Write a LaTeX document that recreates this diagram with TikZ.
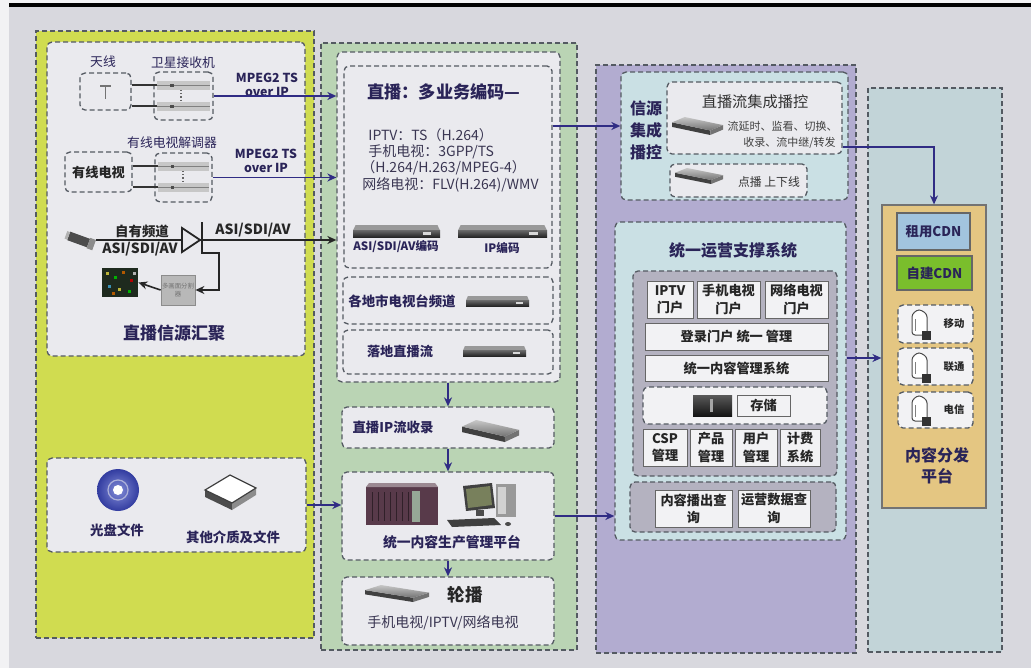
\documentclass[tikz,border=0pt]{standalone}
\usepackage{fontspec}
\setmainfont{Noto Sans CJK SC}
\usetikzlibrary{fit,arrows.meta}

\definecolor{pagebg}{RGB}{216,216,222}
\definecolor{marginc}{RGB}{242,242,244}
\definecolor{yelp}{RGB}{208,220,80}
\definecolor{grnp}{RGB}{186,212,180}
\definecolor{lavp}{RGB}{178,172,208}
\definecolor{cynp}{RGB}{194,212,216}
\definecolor{cynin}{RGB}{202,224,228}
\definecolor{grayin}{RGB}{180,178,192}
\definecolor{boxw}{RGB}{234,234,238}
\definecolor{boxw2}{RGB}{242,242,244}
\definecolor{tanp}{RGB}{228,198,130}
\definecolor{cdnb}{RGB}{162,196,222}
\definecolor{cdng}{RGB}{122,190,44}
\definecolor{dashc}{RGB}{84,90,98}
\definecolor{navy}{RGB}{42,36,88}
\definecolor{txtg}{RGB}{58,54,82}
\definecolor{arrc}{RGB}{48,44,132}
\definecolor{rackc}{RGB}{88,58,74}
\definecolor{rackpanel}{RGB}{150,168,150}
\definecolor{screenc}{RGB}{120,128,92}
\definecolor{monc}{RGB}{30,42,30}
\definecolor{discc}{RGB}{50,60,160}
\definecolor{disclight}{RGB}{130,140,215}

% flat 1U device: x, y, width, height
\newcommand{\devflat}[4]{\begin{scope}[shift={(#1,#2)},xscale=#3,yscale=#4]
  \fill[black!40] (0.03,0) -- (0.97,0) -- (1,0.45) -- (0,0.45) -- cycle;
  \shade[top color=black!60, bottom color=black!85] (0,0.45) rectangle (1,1);
  \fill[black!15] (0.8,0.55) rectangle (0.9,0.8);
\end{scope}}
% light receiver bar
\newcommand{\devlite}[4]{\begin{scope}[shift={(#1,#2)},xscale=#3,yscale=#4]
  \fill[black!22] (0,0) rectangle (1,1);
  \fill[black!50] (0,0.4) rectangle (1,0.6);
  \fill[black!70] (0.25,0.3) rectangle (0.32,0.7);
\end{scope}}
% angled server slab
\newcommand{\devslab}[4]{\begin{scope}[shift={(#1,#2)},xscale=#3,yscale=#4]
  \fill[black!75] (0,0.3) -- (0.75,0.75) -- (0.75,1) -- (0,0.55) -- cycle;
  \fill[black!55] (0.75,0.75) -- (1,0.45) -- (1,0.7) -- (0.75,1) -- cycle;
  \shade[top color=black!22, bottom color=black!55] (0,0.3) -- (0.25,0) -- (1,0.45) -- (0.75,0.75) -- cycle;
\end{scope}}
% CDN server tower at centre x, y
\newcommand{\cdnsrv}[2]{\begin{scope}[shift={(#1,#2)}]
  \draw[black!70, fill=white, line width=0.5pt, rounded corners=1.5pt] (-9,12) -- (-9,-9) -- (-2,-14) -- (6,-9) -- (6,12) -- cycle;
  \draw[black!50, line width=0.4pt] (-6,-4) -- (-6,8);
  \fill[black!80] (1,8) rectangle (10,17);
\end{scope}}
% solid labelled module box: name, x1, y1, x2, y2, text
\newcommand{\modbox}[6]{%
  \node[sbox, fit={(#2,#3) (#4,#5)}] (#1) {};
  \node[sboxtxt] (#1t) at (#1.center) {#6};}

\tikzset{
  panel/.style={draw=dashc, dash pattern=on 2.5pt off 1.5pt, line width=0.7pt, inner sep=0pt},
  wbox/.style={draw=dashc, fill=boxw, rounded corners=2.5pt, dash pattern=on 2.5pt off 1.5pt, line width=0.65pt, inner sep=0pt},
  cbox/.style={wbox, fill=cynin},
  gbox/.style={wbox, fill=grayin},
  sbox/.style={draw=black!60, fill=boxw2, line width=0.5pt, inner sep=0pt},
  sboxtxt/.style={inner sep=0pt, align=center, text=black!85, font=\fontsize{6.6}{8.6}\selectfont\bfseries},
  hold/.style={inner sep=0pt},
  lbl/.style={inner sep=0pt, text=navy, font=\fontsize{6.4}{7.5}\selectfont},
  lblb/.style={inner sep=0pt, text=navy, font=\fontsize{6.6}{7.5}\selectfont\bfseries},
  conn/.style={draw=arrc, line width=0.8pt, -{Stealth[length=4.5pt,width=4pt]}},
  connk/.style={conn, draw=black!85},
}

\begin{document}
\begin{tikzpicture}[x=0.5pt,y=-0.5pt]
\useasboundingbox (0,0) rectangle (1031,668);
\fill[marginc] (0,0) rectangle (1031,668);
\fill[pagebg] (9,7) rectangle (1031,668);
\draw[line width=1.6pt] (9,5) -- (1031,5);

% ===================== live source column
\node[panel, fill=yelp, fit={(36,31) (314,638)}] (colA) {};
\node[wbox, fit={(47,42) (305,356)}] (livesrc) {};

\node[lbl] (tAnt) at (103,62) {天线};
\node[wbox, fit={(80,73) (131,110)}] (ant) {};
\draw[black!55, line width=0.6pt] (100,86) -- (111,86) (105.5,86) -- (105.5,99);
\node[lbl] (tSat) at (183,63) {卫星接收机};
\node[wbox, fit={(154,72) (213,120)}] (sat) {};
\node[hold, fit={(157,81) (210,90)}] (satA) {};
\node[hold, fit={(157,102) (210,111)}] (satB) {};
\devlite{157}{81}{53}{9}
\devlite{157}{102}{53}{9}
\draw[black!60, densely dotted, line width=0.6pt] (181,90) -- (181,102);
\draw[black!80, line width=1pt] (ant.east |- satA) -- (satA.west);
\draw[black!80, line width=1pt] (ant.east |- satB) -- (satB.west);
\node[lblb, align=center, font=\fontsize{6.2}{7.2}\selectfont\bfseries] (tMpA) at (267,85) {MPEG2 TS\\over IP};

\node[lbl] (tDem) at (172,143) {有线电视解调器};
\node[wbox, fit={(65,152) (132,192)}] (cable) {};
\node[lblb, text=black!85] (tCable) at (cable.center) {有线电视};
\node[wbox, fit={(155,153) (212,202)}] (demod) {};
\node[hold, fit={(158,162) (209,171)}] (demA) {};
\node[hold, fit={(158,183) (209,192)}] (demB) {};
\devlite{158}{162}{51}{9}
\devlite{158}{183}{51}{9}
\draw[black!60, densely dotted, line width=0.6pt] (183,171) -- (183,183);
\draw[black!80, line width=1pt] (cable.east |- demA) -- (demA.west);
\draw[black!80, line width=1pt] (cable.east |- demB) -- (demB.west);
\node[lblb, align=center, font=\fontsize{6.2}{7.2}\selectfont\bfseries] (tMpB) at (266,161) {MPEG2 TS\\over IP};

% own channel: camera, splitter, monitor
\begin{scope}[shift={(80,240)},rotate=-20]
  \fill[black!70] (-12,-4.5) rectangle (9,4.5);
  \fill[black!45] (9,-5.5) rectangle (15,5.5);
  \fill[black!30] (-15,-4) rectangle (-12,4);
\end{scope}
\coordinate (cam) at (96,240);
\coordinate (triW) at (182,240);
\coordinate (triE) at (200,240);
\coordinate (brk) at (202,253);
\node[lblb, font=\fontsize{6.7}{7.5}\selectfont\bfseries, text=black!85] (tOwn) at (142,231) {自有频道};
\node[lblb, font=\fontsize{7}{7.5}\selectfont\bfseries, text=black!85] (tAsiL) at (140,249) {ASI/SDI/AV};
\draw[black!85, line width=0.9pt] (cam) -- (triW);
\draw[black!85, line width=0.9pt, fill=boxw] (182,228) -- (triE) -- (182,252) -- cycle;
\draw[black!85, line width=1pt] (202,222) -- (202,254);
\node[lblb, font=\fontsize{7}{7.5}\selectfont\bfseries, text=black!85] (tAsiR) at (253,230) {ASI/SDI/AV};
\node[draw=black!45, fill=black!28, inner sep=0pt, fit={(161,275) (195,305)}] (mux) {};
\node[inner sep=0pt, align=center, text=black!55, font=\fontsize{3.2}{4}\selectfont] (tMux) at (mux.center) {多画面分割\\器};
\node[fill=monc, inner sep=0pt, fit={(102,268) (138,297)}] (mon) {};
\foreach \px/\py/\pc in {106/272/yellow, 114/276/green, 122/271/orange, 130/279/red, 108/285/cyan, 118/288/yellow, 128/290/green, 133/272/white, 112/292/orange}
  \fill[\pc!70!black] (\px,\py) rectangle ++(3,3);
\node[lblb, font=\fontsize{8.5}{9}\selectfont\bfseries] (tLive) at (174,333) {直播信源汇聚};

% media files
\node[wbox, fit={(47,458) (306,552)}] (media) {};
\shade[inner color=disclight, outer color=discc] (118,490) circle (21);
\draw[white!60!discc, line width=0.6pt] (118,490) circle (10);
\fill[white] (118,490) circle (5);
\node[lblb, font=\fontsize{6.7}{7.5}\selectfont\bfseries] (tDisc) at (117,530) {光盘文件};
\fill[black!70] (205,490) -- (232,503) -- (232,510) -- (205,497) -- cycle;
\fill[black!45] (232,503) -- (256,488) -- (256,495) -- (232,510) -- cycle;
\draw[black!75, fill=white, line width=0.6pt] (205,490) -- (230,475) -- (256,488) -- (232,503) -- cycle;
\node[lblb, font=\fontsize{6.7}{7.5}\selectfont\bfseries] (tOther) at (233,537) {其他介质及文件};

% ===================== production column
\node[panel, fill=grnp, fit={(321,43) (577,650)}] (colB) {};
\node[wbox, fit={(337,52) (560,382)}] (srcA) {};
\node[wbox, fit={(344,66) (552,268)}] (enc) {};
\node[lblb, font=\fontsize{8.6}{9}\selectfont\bfseries] (tEnc) at (444,92) {直播：多业务编码—};
\node[lbl, anchor=west, text=txtg, font=\fontsize{7}{8}\selectfont] (sA) at (368,135) {IPTV：TS（H.264）};
\node[lbl, anchor=west, text=txtg, font=\fontsize{7}{8}\selectfont] (sB) at (368,152) {手机电视：3GPP/TS};
\node[lbl, anchor=west, text=txtg, font=\fontsize{7}{8}\selectfont] (sC) at (361,168) {（H.264/H.263/MPEG-4）};
\node[lbl, anchor=west, text=txtg, font=\fontsize{7}{8}\selectfont] (sD) at (362,185) {网络电视：FLV(H.264)/WMV};
\devflat{353}{225}{87}{12}
\devflat{458}{225}{89}{12}
\node[lblb, font=\fontsize{5.8}{7}\selectfont\bfseries] (tEncA) at (396,247) {ASI/SDI/AV编码};
\node[lblb, font=\fontsize{5.8}{7}\selectfont\bfseries] (tEncB) at (502,248) {IP编码};

\node[wbox, fit={(343,277) (553,324)}] (city) {};
\node[lblb, font=\fontsize{6.7}{7.5}\selectfont\bfseries] (tCity) at (402,301) {各地市电视台频道};
\devflat{466}{296}{63}{10}
\node[wbox, fit={(343,330) (553,374)}] (local) {};
\node[lblb, font=\fontsize{6.6}{7.5}\selectfont\bfseries] (tLocal) at (400,351) {落地直播流};
\devflat{463}{346}{63}{10}

\node[wbox, fit={(342,407) (554,448)}] (rec) {};
\node[lblb, font=\fontsize{6.7}{7.5}\selectfont\bfseries] (tRec) at (393,427) {直播IP流收录};
\devslab{462}{420}{57}{22}

\node[wbox, fit={(342,472) (554,560)}] (prod) {};
\fill[rackc] (366,487) rectangle (438,525);
\fill[rackc!60!white] (366,487) -- (438,487) -- (435,483) -- (369,483) -- cycle;
\foreach \xx in {372,378,...,408} \draw[rackc!55!black, line width=0.3pt] (\xx,492) -- (\xx,521);
\fill[rackpanel] (412,491) rectangle (420,522);
\fill[black!75] (463,486) -- (492,483) -- (495,508) -- (466,511) -- cycle;
\fill[screenc] (466,489) -- (490,486) -- (492,505) -- (468,508) -- cycle;
\fill[black!70] (476,510) rectangle (484,516);
\fill[black!40] (496,484) rectangle (516,517);
\fill[black!18] (498,487) rectangle (506,514);
\fill[black!75] (447,520) -- (494,518) -- (501,525) -- (452,527) -- cycle;
\fill[black!70] (508,524) ellipse (3 and 2);
\node[lblb, font=\fontsize{6.9}{7.5}\selectfont\bfseries] (tProd) at (452,542) {统一内容生产管理平台};

\node[wbox, fit={(342,577) (554,645)}] (loop) {};
\devslab{365}{585}{64}{17}
\node[lblb, font=\fontsize{8.8}{9}\selectfont\bfseries, text=black!85] (tLoop) at (465,595) {轮播};
\node[lbl, text=txtg, font=\fontsize{7}{8}\selectfont] (tLoopSub) at (443,623) {手机电视/IPTV/网络电视};

% ===================== operation column
\node[panel, fill=lavp, fit={(596,65) (856,653)}] (colC) {};
\node[cbox, fit={(621,72) (848,200)}] (ctl) {};
\node[lblb, align=center, font=\fontsize{8}{11}\selectfont\bfseries] (tCtl) at (646,130) {信源\\集成\\播控};
\node[wbox, fit={(667,82) (842,154)}] (livectl) {};
\node[lbl, text=black!80, font=\fontsize{7.6}{8}\selectfont] (tLiveCtl) at (755,102) {直播流集成播控};
\devslab{672}{117}{51}{18}
\node[lbl, anchor=east, text=black!75, font=\fontsize{5.5}{6.5}\selectfont] (tFnA) at (838,126) {流延时、监看、切换、};
\node[lbl, anchor=east, text=black!75, font=\fontsize{5.5}{6.5}\selectfont] (tFnB) at (836,143) {收录、流中继/转发};
\node[wbox, fit={(670,164) (807,197)}] (vod) {};
\devslab{675}{168}{48}{16}
\node[lbl, text=black!80, font=\fontsize{5.9}{7}\selectfont] (tVod) at (769,182) {点播 上下线};

\node[cbox, fit={(615,222) (846,540)}] (ops) {};
\node[lblb, font=\fontsize{8}{9}\selectfont\bfseries] (tOps) at (733,250) {统一运营支撑系统};
\node[gbox, fit={(633,271) (837,476)}] (opsin) {};
\modbox{pA}{647}{281}{693}{318}{IPTV\\门户}
\modbox{pB}{697}{281}{760}{318}{手机电视\\门户}
\modbox{pC}{765}{281}{828}{318}{网络电视\\门户}
\modbox{login}{645}{323}{828}{350}{登录门户 统一 管理}
\modbox{cms}{645}{355}{828}{381}{统一内容管理系统}
\node[wbox, fill=boxw2, fit={(643,387) (827,424)}] (store) {};
\shade[top color=black!65, bottom color=black!92] (693,395) rectangle (732,416);
\fill[black!35] (710,399) rectangle (713,412);
\modbox{stor}{737}{395}{790}{416}{存储}
\modbox{mA}{643}{429}{687}{466}{CSP\\管理}
\modbox{mB}{690}{429}{732}{466}{产品\\管理}
\modbox{mC}{735}{429}{777}{466}{用户\\管理}
\modbox{mD}{780}{429}{820}{466}{计费\\系统}
\node[gbox, fit={(630,482) (836,532)}] (query) {};
\modbox{qA}{655}{490}{732}{527}{内容播出查\\询}
\modbox{qB}{738}{490}{810}{527}{运营数据查\\询}

% ===================== distribution column
\node[panel, fill=cynp, fit={(868,88) (1002,652)}] (colD) {};
\node[draw=black!55, fill=tanp, line width=0.6pt, inner sep=0pt, fit={(882,205) (986,508)}] (cdn) {};
\node[draw=black!60, fill=cdnb, line width=0.6pt, inner sep=0pt, fit={(897,213) (970,250)}] (rent) {};
\node[inner sep=0pt, text=navy, font=\fontsize{6.7}{7.5}\selectfont\bfseries] (tRent) at (rent.center) {租用CDN};
\node[draw=black!60, fill=cdng, line width=0.6pt, inner sep=0pt, fit={(897,256) (972,290)}] (own) {};
\node[inner sep=0pt, text=navy, font=\fontsize{6.7}{7.5}\selectfont\bfseries] (tOwnCdn) at (own.center) {自建CDN};
\node[wbox, fill=boxw2, fit={(898,305) (973,343)}] (ispA) {};
\cdnsrv{921}{323}
\node[lblb, text=black!85, font=\fontsize{5.2}{6}\selectfont\bfseries] (tIspA) at (954,324) {移动};
\node[wbox, fill=boxw2, fit={(898,348) (973,385)}] (ispB) {};
\cdnsrv{921}{366}
\node[lblb, text=black!85, font=\fontsize{5.2}{6}\selectfont\bfseries] (tIspB) at (954,367) {联通};
\node[wbox, fill=boxw2, fit={(898,392) (973,428)}] (ispC) {};
\cdnsrv{921}{409}
\node[lblb, text=black!85, font=\fontsize{5.2}{6}\selectfont\bfseries] (tIspC) at (954,410) {电信};
\node[lblb, align=center, font=\fontsize{8}{10.5}\selectfont\bfseries] (tCdn) at (937,466) {内容分发\\平台};

% ===================== connectors
\draw[conn] (sat.east) -- (sat.east -| srcA.west);
\draw[conn] (demod.east) -- (demod.east -| srcA.west);
\draw[connk] (triE) -- (triE -| srcA.west);
\draw[connk] (brk) -- (219,253) |- (mux.east);
\draw[connk] (mux.west) -- (mon.east);
\draw[conn] (media.east) -- (media.east -| prod.west);
\draw[conn] (srcA.south -| rec.north) -- (rec.north);
\draw[conn] (rec.south) -- (prod.north);
\draw[conn] (prod.south) -- (loop.north);
\draw[conn] (enc.east |- 0,126) -- (ctl.west |- 0,126);
\draw[conn] (prod.east) -- (prod.east -| ops.west);
\draw[conn] (livectl.east |- 0,147) -| (cdn.north);
\draw[conn] (ops.east |- 0,358) -- (cdn.west |- 0,358);
\end{tikzpicture}
\end{document}
